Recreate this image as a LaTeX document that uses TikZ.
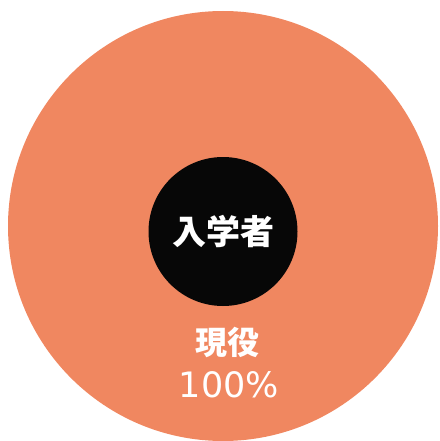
\documentclass[tikz,border=0pt]{standalone}
\usepackage{fontspec}
\usepackage{tikz}
\usetikzlibrary{positioning}
\newfontfamily\cjk{Noto Sans CJK JP}
\newfontfamily\numfont{DejaVu Sans}
\definecolor{genekiorange}{RGB}{240,135,96}
\definecolor{nyugakublack}{RGB}{7,7,7}

\begin{document}
\begin{tikzpicture}[
    x=1pt, y=-1pt,
    outer/.style={circle, fill=genekiorange, minimum size=430pt, inner sep=0pt},
    core/.style={circle, fill=nyugakublack, minimum size=149pt, inner sep=0pt},
    whitetext/.style={text=white, inner sep=0pt, font=\cjk\bfseries\fontsize{34}{34}\selectfont},
    percent/.style={text=white, inner sep=0pt, font=\numfont\fontsize{35}{35}\selectfont}
]
\useasboundingbox (0,0) rectangle (439,441);

\node[outer] (whole) at (223,226) {};
\node[core] (center) at (223,231.5) {};

\node[whitetext] (entrants) at (223,231) {入学者};
\node[whitetext, font=\cjk\bfseries\fontsize{32}{32}\selectfont] (current) at (227,342) {現役};
\node[percent] (ratio) at (229,385) {100\%};

\end{tikzpicture}
\end{document}
